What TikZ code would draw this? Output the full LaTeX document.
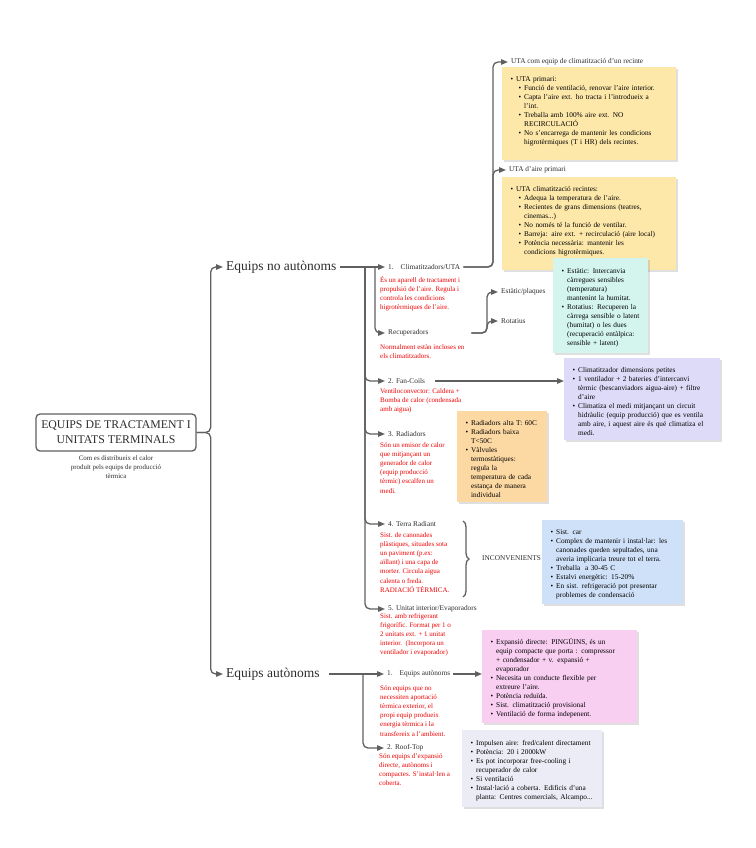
\documentclass[tikz,border=0pt]{standalone}
\usepackage{fontspec}
\setmainfont{Liberation Serif}
\usepackage{enumitem}
\usetikzlibrary{positioning,arrows.meta,shadows,decorations.pathreplacing}
\definecolor{LineGray}{RGB}{96,96,96}
\definecolor{TextGray}{RGB}{45,45,45}
\definecolor{RemarkRed}{RGB}{240,0,0}
\definecolor{NoteYellow}{RGB}{253,232,170}
\definecolor{NoteGreen}{RGB}{212,245,238}
\definecolor{NotePurple}{RGB}{222,219,248}
\definecolor{NoteOrange}{RGB}{252,216,162}
\definecolor{NoteBlue}{RGB}{207,225,248}
\definecolor{NotePink}{RGB}{248,206,241}
\definecolor{NoteGray}{RGB}{236,236,246}
\setlist[itemize,1]{nosep,leftmargin=10pt,rightmargin=-3pt,labelsep=3pt,label=\textbullet}
\setlist[itemize,2]{nosep,leftmargin=8pt,labelsep=3pt,label=\textbullet}

\begin{document}
\begin{tikzpicture}[x=1pt,y=-1pt,
  link/.style={draw=LineGray,line width=1.3pt,rounded corners=5pt,-{Triangle[length=7pt,width=5.5pt]}},
  bus/.style={draw=LineGray,line width=1.3pt},
  root/.style={draw=LineGray,line width=1.3pt,rounded corners=4pt,minimum width=160pt,minimum height=37pt,align=center,text=TextGray,font=\fontsize{11.8}{15}\selectfont},
  branch/.style={anchor=west,inner sep=3pt,text=TextGray,font=\fontsize{13.5}{15}\selectfont},
  leaf/.style={anchor=west,inner sep=3pt,text=TextGray,font=\fontsize{7.3}{9}\selectfont},
  remark/.style={anchor=north west,inner sep=0pt,align=left,text=RemarkRed,font=\fontsize{7}{9.2}\selectfont},
  note/.style={anchor=north west,fill=#1,inner xsep=4pt,inner ysep=5pt,align=left,font=\fontsize{7.3}{9}\selectfont,
    drop shadow={opacity=0.25,shadow xshift=2pt,shadow yshift=-2pt}}]

\fill[white] (0,0) rectangle (755,848);

% root and the two main branches
\node[root] (root) at (116,432.5) {EQUIPS DE TRACTAMENT I\\UNITATS TERMINALS};
\node[font=\fontsize{6.9}{8.8}\selectfont,align=center,text=TextGray,below=1pt of root] (rootsub) {Com es distribueix el calor\\produït pels equips de producció\\tèrmica};

\node[branch] (noaut) at (223,267) {Equips no autònoms};
\node[branch] (aut) at (223,674) {Equips autònoms};

% leaves of the no autonomous branch
\node[leaf] (clim) at (385,267) {1.\hspace{7pt}Climatitzadors/UTA};
\node[leaf,text width=80pt] (recup) at (385,333) {Recuperadors};
\node[leaf] (fan) at (385,381) {2. Fan-Coils};
\node[leaf] (rad) at (385,434) {3. Radiadors};
\node[leaf] (terra) at (385,524) {4. Terra Radiant};
\node[leaf] (unit) at (385,609) {5. Unitat interior/Evaporadors};

\node[leaf] (utaA) at (508,62) {UTA com equip de climatització d'un recinte};
\node[leaf] (utaB) at (506,170) {UTA d'aire primari};
\node[leaf] (estatic) at (498,292) {Estàtic/plaques};
\node[leaf] (rotatius) at (498,321) {Rotatius};
\node[leaf] (inconv) at (479,558) {INCONVENIENTS};

% leaves of the autonomous branch
\node[leaf] (auto1) at (384,674) {1.\hspace{7pt}Equips autònoms};
\node[leaf] (roof) at (384,748) {2. Roof-Top};

% red remarks
\node[remark] (climR) at (380,276) {És un aparell de tractament i\\propulsió de l'aire. Regula i\\controla les condicions\\higrotèrmiques de l'aire.};
\node[remark] (recupR) at (380,344) {Normalment estàn incloses en\\els climatitzadors.};
\node[remark] (fanR) at (380,388) {Ventiloconvector: Caldera +\\Bomba de calor (condensada\\amb aigua)};
\node[remark] (radR) at (380,442) {Són un emisor de calor\\que mitjançant un\\generador de calor\\(equip producció\\tèrmic) escalfen un\\medi.};
\node[remark] (terraR) at (380,532) {Sist. de canonades\\plàstiques, situades sota\\un paviment (p.ex:\\aïllant) i una capa de\\morter. Circula aigua\\calenta o freda.\\RADIACIÓ TÈRMICA.};
\node[remark] (unitR) at (380,613) {Sist. amb refrigerant\\frigorífic. Format per 1 o\\2 unitats ext. + 1 unitat\\interior.\ \ (Incorpora un\\ventilador i evaporador)};
\node[remark] (autR) at (380,685) {Són equips que no\\necessiten aportació\\tèrmica exterior, el\\propi equip produeix\\energia tèrmica i la\\transfereix a l'ambient.};
\node[remark] (roofR) at (379,753) {Són equips d'expansió\\directe, autònoms i\\compactes. S'instal·len a\\coberta.};

% notes
\node[note=NoteYellow,text width=166pt,minimum height=91pt] (yUTA1) at (502,67) {%
\begin{itemize}
\item UTA primari:
  \begin{itemize}
  \item Funció de ventilació, renovar l'aire interior.
  \item Capta l'aire ext. ho tracta i l'introdueix a\newline l'int.
  \item Treballa amb 100\% aire ext. NO\newline RECIRCULACIÓ
  \item No s'encarrega de mantenir les condicions\newline higrotèrmiques (T i HR) dels recintes.
  \end{itemize}
\end{itemize}\par\rule{0pt}{8pt}};
\node[note=NoteYellow,text width=166pt,minimum height=93pt] (yUTA2) at (502,177) {%
\begin{itemize}
\item UTA climatització recintes:
  \begin{itemize}
  \item Adequa la temperatura de l'aire.
  \item Recientes de grans dimensions (teatres,\newline cinemas...)
  \item No només té la funció de ventilar.
  \item Barreja: aire ext. + recirculació (aire local)
  \item Potència necessària: mantenir les\newline condicions higrotèrmiques.
  \end{itemize}
\end{itemize}\par\rule{0pt}{8pt}};
\node[note=NoteGreen,text width=87pt,minimum height=95pt] (gRec) at (553,258) {%
\begin{itemize}
\item Estàtic: Intercanvia\newline càrregues sensibles\newline (temperatura)\newline mantenint la humitat.
\item Rotatius: Recuperen la\newline càrrega sensible o latent\newline (humitat) o les dues\newline (recuperació entàlpica:\newline sensible + latent)
\end{itemize}};
\node[note=NotePurple,text width=148pt,minimum height=77pt] (pFan) at (564,358) {%
\begin{itemize}
\item Climatitzador dimensions petites
\item 1 ventilador + 2 bateries d'intercanvi\newline tèrmic (bescanviadors aigua-aire) + filtre\newline d'aire
\item Climatiza el medi mitjançant un circuit\newline hidràulic (equip producció) que es ventila\newline amb aire, i aquest aire és qué climatiza el\newline medi.
\end{itemize}};
\node[note=NoteOrange,text width=82pt,minimum height=89pt] (oRad) at (457,411) {%
\begin{itemize}
\item Radiadors alta T: 60C
\item Radiadors baixa\newline T<50C
\item Vàlvules\newline termostàtiques:\newline regula la\newline temperatura de cada\newline estança de manera\newline individual
\end{itemize}};
\node[note=NoteBlue,text width=133pt,minimum height=78pt] (bTerra) at (542,520) {%
\begin{itemize}
\item Sist. car
\item Complex de mantenir i instal·lar: les\newline canonades queden sepultades, una\newline averia implicaria treure tot el terra.
\item Treballa\ \ a 30-45 C
\item Estalvi energètic: 15-20\%
\item En sist. refrigeració pot presentar\newline problemes de condensació
\end{itemize}};
\node[note=NotePink,text width=147pt,minimum height=88pt] (kAuto) at (482,630) {%
\begin{itemize}
\item Expansió directe: PINGÜINS, és un\newline equip compacte que porta : compressor\newline + condensador + v. expansió +\newline evaporador
\item Necesita un conducte flexible per\newline extreure l'aire.
\item Potència reduïda.
\item Sist. climatització provisional
\item Ventilació de forma indepenent.
\end{itemize}};
\node[note=NoteGray,text width=132pt,minimum height=77pt] (gRoof) at (462,730) {%
\begin{itemize}
\item Impulsen aire: fred/calent directament
\item Potència: 20 i 2000kW
\item Es pot incorporar free-cooling i\newline recuperador de calor
\item Si ventilació
\item Instal·lació a coberta. Edificis d'una\newline planta: Centres comercials, Alcampo...
\end{itemize}};

% bus points
\coordinate (busNA) at (365,267);
\coordinate (busCR) at (375,267);
\coordinate (busUTA) at (493,267);
\coordinate (busRec) at (487,333);
\coordinate (busAU) at (363,674);

% connectors
\draw[link] (root.east) -- ++(14,0) |- (noaut.west);
\draw[link] (root.east) -- ++(14,0) |- (aut.west);

\draw[link] (noaut.east) -- (clim.west);
\draw[link] (busCR) |- (recup.west);
\foreach \n in {fan,rad,terra,unit}
  \draw[link] (busNA) |- (\n.west);

\draw[link] (clim.east) -- (busUTA) |- (utaA.west);
\draw[link] (clim.east) -- (busUTA) |- (utaB.west);
\draw[link] (recup.east) -- (busRec) |- (estatic.west);
\draw[link] (recup.east) -- (busRec) |- (rotatius.west);
\draw[link,shorten <=7pt] (fan.east) -- (fan.east -| pFan.west);

\draw[link,shorten <=6pt] (aut.east) -- (auto1.west);
\draw[link] (busAU) |- (roof.west);
\draw[link] (auto1.east) -- (auto1.east -| kAuto.west);

% brace of the radiant floor
\coordinate (braceT) at (463,521);
\coordinate (braceB) at (463,597);
\draw[bus,decorate,decoration={brace,amplitude=6pt}] (braceT) -- (braceB);

\end{tikzpicture}
\end{document}
